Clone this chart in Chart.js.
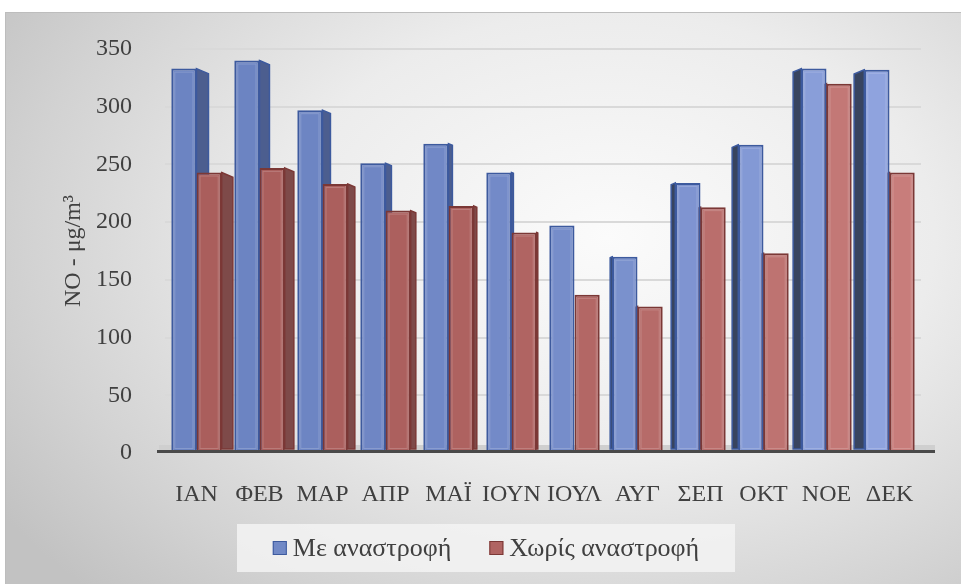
<!DOCTYPE html>
<html>
<head>
<meta charset="utf-8">
<script src="https://cdn.jsdelivr.net/npm/chart.js@4.4.1/dist/chart.umd.min.js"></script>
<style>
html, body { margin: 0; padding: 0; background: #fff; }
#wrap { position: relative; width: 961px; height: 584px; overflow: hidden; }
#frame {
    position: absolute; left: 5px; top: 12px; width: 970px; height: 590px;
    border: 1px solid #bdbdbd;
    background: radial-gradient(ellipse 75% 85% at 62% 38%, #fbfbfb 0%, #ececec 45%, #d2d2d2 80%, #c2c2c2 100%);
}
canvas { position: absolute; left: 0; top: 0; }
</style>
</head>
<body>
<div id="wrap">
<div id="frame"></div>
<canvas id="noChart" width="961" height="584"></canvas>
</div>
<script>
var months = ["ΙΑΝ", "ΦΕΒ", "ΜΑΡ", "ΑΠΡ", "ΜΑΪ", "ΙΟΥΝ", "ΙΟΥΛ", "ΑΥΓ", "ΣΕΠ", "ΟΚΤ", "ΝΟΕ", "ΔΕΚ"];
var withInversion = [333, 340, 297, 251, 268, 243, 197, 170, 234, 267, 333, 332];
var withoutInversion = [243, 247, 233, 210, 214, 191, 137, 127, 213, 173, 320, 243];
var seriesNames = ["Με αναστροφή", "Χωρίς αναστροφή"];
var yTicks = [0, 50, 100, 150, 200, 250, 300, 350];

var serif = "'Liberation Serif', 'DejaVu Serif', serif";
var textColor = "#404040";

// front colour goes from the darker left end to the lit right end
var faces = [
    { dark: [108, 132, 194], lit: [143, 163, 222], right: "#4c5e8f", left: "#38445f", border: "#3d5a9e", legend: "#7189c6" },
    { dark: [170, 94, 92], lit: [200, 125, 123], right: "#7e4a49", left: "#6a3a39", border: "#7b3836", legend: "#b06462" }
];

function frontColor(di) {
    return function(c) {
        var t = c.dataIndex / (months.length - 1);
        t = t * t;
        var a = faces[di].dark, b = faces[di].lit;
        var rgb = a.map(function(v, k) { return Math.round(v + (b[k] - v) * t); });
        return "rgb(" + rgb.join(",") + ")";
    };
}

// side depth shifts with horizontal position, like a perspective view
function depthFor(chart, x) {
    var area = chart.chartArea;
    var mid = area.left + (area.right - area.left) * 0.52;
    return (mid - x) * 0.032;
}

var solidBars = {
    id: "solidBars",
    beforeDatasetsDraw: function(chart) {
        var ctx = chart.ctx;
        var area = chart.chartArea;
        // floor slab
        ctx.save();
        ctx.fillStyle = "#cfcfcf";
        ctx.fillRect(area.left - 6, area.bottom - 8, area.right - area.left + 20, 6);
        ctx.restore();

        chart.data.datasets.forEach(function(ds, di) {
            var meta = chart.getDatasetMeta(di);
            meta.data.forEach(function(bar) {
                var p = bar.getProps(["x", "y", "base", "width"], true);
                var dx = depthFor(chart, p.x);
                if (Math.abs(dx) < 1) return;
                var edge = dx > 0 ? p.x + p.width / 2 : p.x - p.width / 2;
                var dy = Math.abs(dx) * 0.42;
                ctx.save();
                ctx.beginPath();
                ctx.moveTo(edge, p.y);
                ctx.lineTo(edge + dx, p.y + dy);
                ctx.lineTo(edge + dx, p.base - 3);
                ctx.lineTo(edge, p.base - 3);
                ctx.closePath();
                ctx.fillStyle = dx > 0 ? faces[di].right : faces[di].left;
                ctx.fill();
                ctx.lineWidth = 1.5;
                ctx.strokeStyle = faces[di].border;
                ctx.stroke();
                ctx.restore();
            });
        });
    },
    afterDatasetsDraw: function(chart) {
        var ctx = chart.ctx;
        var area = chart.chartArea;
        ctx.save();
        // soft bevel line inside each front face
        chart.data.datasets.forEach(function(ds, di) {
            chart.getDatasetMeta(di).data.forEach(function(bar) {
                var p = bar.getProps(["x", "y", "base", "width"], true);
                ctx.strokeStyle = "rgba(255,255,255,0.18)";
                ctx.lineWidth = 1;
                ctx.strokeRect(p.x - p.width / 2 + 3.5, p.y + 3.5, p.width - 7, p.base - p.y - 7);
            });
        });
        ctx.fillStyle = "#4a4a4a";
        ctx.fillRect(area.left - 8, area.bottom - 3, area.right - area.left + 22, 3);
        ctx.restore();
    }
};

var boxedLegend = {
    id: "boxedLegend",
    afterDraw: function(chart) {
        var ctx = chart.ctx;
        ctx.save();
        ctx.fillStyle = "rgba(243,243,243,0.85)";
        ctx.fillRect(237, 524, 498, 48);
        ctx.font = "26px " + serif;
        ctx.textBaseline = "middle";
        var cy = 548;
        var gap = 38;
        var widths = seriesNames.map(function(n) { return 14 + 6 + ctx.measureText(n).width; });
        var total = widths[0] + gap + widths[1];
        var x = 486 - total / 2;
        seriesNames.forEach(function(name, i) {
            ctx.fillStyle = faces[i].legend;
            ctx.fillRect(x, cy - 7, 14, 14);
            ctx.strokeStyle = faces[i].border;
            ctx.lineWidth = 1;
            ctx.strokeRect(x + 0.5, cy - 6.5, 13, 13);
            ctx.fillStyle = textColor;
            ctx.fillText(name, x + 20, cy + 1);
            x += widths[i] + gap;
        });
        ctx.restore();
    }
};

new Chart(document.getElementById("noChart"), {
    type: "bar",
    data: {
        labels: months,
        datasets: [
            {
                label: seriesNames[0],
                data: withInversion,
                backgroundColor: frontColor(0),
                borderColor: faces[0].border,
                borderWidth: 2
            },
            {
                label: seriesNames[1],
                data: withoutInversion,
                backgroundColor: frontColor(1),
                borderColor: faces[1].border,
                borderWidth: 2
            }
        ]
    },
    options: {
        responsive: false,
        animation: false,
        layout: { padding: { left: 59, right: 40, top: 49, bottom: 71 } },
        categoryPercentage: 0.8,
        barPercentage: 1.0,
        plugins: {
            legend: { display: false },
            tooltip: { enabled: false }
        },
        scales: {
            x: {
                grid: { display: false },
                border: { display: false },
                ticks: {
                    color: textColor,
                    font: { family: serif, size: 24 },
                    padding: 19,
                    autoSkip: false,
                    maxRotation: 0
                },
                afterFit: function(s) { s.height = 60; }
            },
            y: {
                min: 0,
                max: 350,
                afterBuildTicks: function(s) { s.ticks = yTicks.map(function(v) { return { value: v }; }); },
                grid: {
                    drawTicks: false,
                    lineWidth: 2,
                    color: function(c) { return c.tick && c.tick.value === 0 ? "rgba(0,0,0,0)" : "#d9d9d9"; }
                },
                border: { display: false },
                ticks: {
                    color: textColor,
                    font: { family: serif, size: 24 },
                    padding: 33
                },
                title: {
                    display: true,
                    text: "NO - μg/m³",
                    color: textColor,
                    font: { family: serif, size: 24 },
                    padding: 0
                },
                afterFit: function(s) { s.width = 106; }
            }
        }
    },
    plugins: [solidBars, boxedLegend]
});
</script>
</body>
</html>
